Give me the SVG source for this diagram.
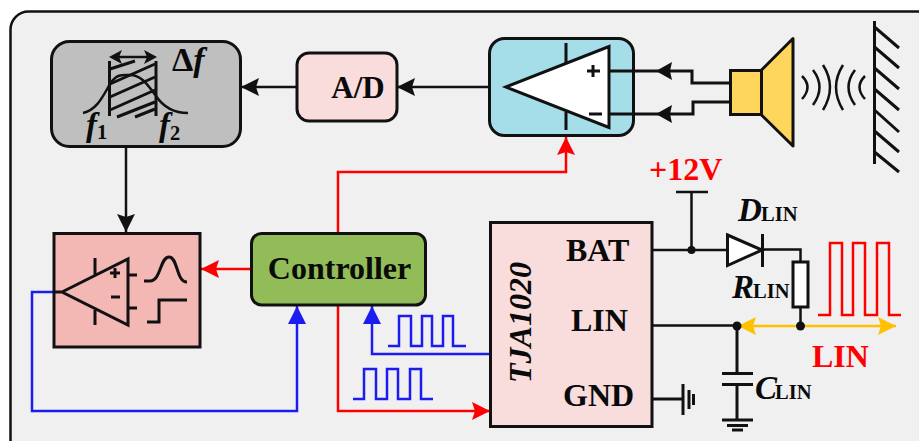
<svg xmlns="http://www.w3.org/2000/svg" width="919" height="441" viewBox="0 0 919 441">
<style>
text{font-family:"Liberation Serif","Times New Roman",serif;font-weight:bold;fill:#0a0a0a}
.t{font-size:32px}.s{font-size:20.500px;font-style:normal}.i{font-style:italic}.r{fill:#f00}
.lab{font-size:33px;font-style:italic}
.box{stroke:#111;stroke-width:3}
.k,.kt,.rl,.bl,.yl,.rp{fill:none;stroke-linejoin:miter}
.k{stroke:#111;stroke-width:2.500}
.kt{stroke:#111;stroke-width:3}
.rl{stroke:#f00;stroke-width:2.500}
.rp{stroke:#f00;stroke-width:2.500}
.bl{stroke:#1c1cf0;stroke-width:2.500}
.yl{stroke:#ffc000;stroke-width:2.500}
</style>
<defs>
<marker id="ak" markerUnits="userSpaceOnUse" markerWidth="20" markerHeight="20" refX="18" refY="10" orient="auto"><path d="M18,10 L0,1 L3,10 L0,19Z" fill="#111"/></marker>
<marker id="ar" markerUnits="userSpaceOnUse" markerWidth="20" markerHeight="20" refX="18" refY="10" orient="auto"><path d="M18,10 L0,1 L3,10 L0,19Z" fill="#f00"/></marker>
<marker id="ab" markerUnits="userSpaceOnUse" markerWidth="20" markerHeight="20" refX="18" refY="10" orient="auto"><path d="M18,10 L0,1 L0,19Z" fill="#1c1cf0"/></marker>
<marker id="ay" markerUnits="userSpaceOnUse" markerWidth="20" markerHeight="20" refX="18" refY="10" orient="auto-start-reverse"><path d="M18,10 L0,1 L3,10 L0,19Z" fill="#ffc000"/></marker>
</defs>
<rect id="panel" x="10.500" y="11.500" width="925" height="450" rx="18" fill="#f0f0f0" stroke="#111" stroke-width="2.500"/>

<g id="connectors">
<path class="k" d="M126,147V232" marker-end="url(#ak)"/>
<path class="k" d="M297,87H241" marker-end="url(#ak)"/>
<path class="k" d="M506,87H397" marker-end="url(#ak)"/>
<path class="rl" d="M251,269H201" marker-end="url(#ar)"/>
<path class="rl" d="M338,233V172H566V137" marker-end="url(#ar)"/>
<path class="rl" d="M338,305V411H490" marker-end="url(#ar)"/>
<path class="bl" d="M54,292H32V411H297V306" marker-end="url(#ab)"/>
<path class="bl" d="M491,354H372V306" marker-end="url(#ab)"/>
<path class="yl" d="M738,326H896" marker-start="url(#ay)" marker-end="url(#ay)"/>
</g>

<g id="filter">
<rect class="box" x="51.500" y="41.500" width="189" height="105" rx="18" fill="#bfbfbf"/>
<path class="kt" d="M109.500,61V116M156,61V116"/>
<path class="kt" d="M110,69L135,61M110,84L155,64M110,97L155,77M110,110L155,90M117,117L155,102M135,117L155,109"/>
<path class="k" d="M83,113C97,110 103,96 110,84C117,73 124,75 130,75C140,75 146,82 156,96C164,108 176,113 188,113"/>
<path class="k" d="M114,57H152"/>
<path fill="#111" d="M109,57L122,50L119,57L122,64ZM157,57L144,50L147,57L144,64Z"/>
<text x="172" y="71" style="font-size:34px">Δ<tspan class="i">f</tspan></text>
<text class="lab" x="86" y="136">f</text>
<text class="s" x="97" y="139">1</text>
<text class="lab" x="159" y="136">f</text>
<text class="s" x="170" y="140">2</text>
</g>

<g id="adc">
<rect class="box" x="297" y="53" width="100" height="68" rx="12" fill="#f9dcdc"/>
<text x="358" y="98" text-anchor="middle" style="font-size:31px">A/D</text>
</g>

<g id="amp">
<rect class="box" x="489.500" y="38.500" width="144" height="97" rx="15" fill="#a5dde9"/>
<path d="M506,87L609,46.500V127.500Z" fill="#fff" stroke="#111" stroke-width="3"/>
<path class="kt" d="M566,43V63M566,112V130"/>
<path class="kt" d="M587,71H600M593,65V77M589,114H602"/>
</g>

<g id="speaker">
<path class="kt" d="M609,71H692V83H730M609,114H693V102H730"/>
<path fill="#111" d="M656,71L672,62L670,71L672,80ZM656,114L672,105L670,114L672,123Z"/>
<rect x="730.500" y="70.500" width="31" height="44" fill="#ffd65c" stroke="#111" stroke-width="3"/>
<path d="M761.500,70L793,38.500V146L761.500,115Z" fill="#ffd65c" stroke="#111" stroke-width="3" stroke-linejoin="round"/>
<path class="k" d="M802,76Q813,87 802,99M813,70Q826,87 813,105M823,65Q837,87 823,110M843,65Q829,87 843,110M855,70Q842,87 855,105M865,76Q854,87 865,99"/>
</g>

<g id="wall">
<path class="kt" d="M874.500,21V164M874.500,27L899,48M874.500,47L899,68M874.500,68L899,89M874.500,89L899,110M874.500,110L899,132M874.500,131L899,152M874.500,152L899,172"/>
</g>

<g id="comparator">
<rect class="box" x="54" y="233.500" width="146" height="113.500" fill="#f4b8b4"/>
<path class="kt" d="M62,292L128,259V325ZM54,292H62M95,258V275M95,310V325M128,275H137M128,308H137"/>
<path class="kt" d="M110,273H120M115,268V278M111,297H120"/>
<path class="kt" d="M144,281H150C161,281 160,257 169,257C178,257 176,282 187,282"/>
<path class="kt" d="M147,322H159V300H187"/>
</g>

<g id="controller">
<rect class="box" x="251.500" y="233.500" width="174" height="71.500" rx="10" fill="#92bc58"/>
<text x="339.500" y="279" text-anchor="middle" style="font-size:32px">Controller</text>
</g>

<g id="tja1020">
<rect class="box" x="490.500" y="222.500" width="161.500" height="204" fill="#f9dcdc"/>
<text class="t i" transform="translate(531,383) rotate(-90)">TJA1020</text>
<text class="t" x="566" y="261">BAT</text>
<text class="t" x="571" y="331">LIN</text>
<text class="t" x="563" y="406">GND</text>
</g>

<g id="signals">
<path class="bl" d="M388,346H399V316H411V346H422V316H432V346H443V316H453V346H466"/>
<path class="bl" d="M353,399H364V369H376V399H387V369H398V399H410V369H421V399H433"/>
<path class="rp" d="M818,315H830V243H842V315H853V243H865V315H877V243H889V315H901"/>
</g>

<g id="lin-circuit">
<text class="t r" x="649" y="180">+12V</text>
<path class="k" d="M676,192H708M691.500,192V250M652,250H727M762,249.500H800.500V262M800.500,307V325M652,325.500H737"/>
<circle cx="691.500" cy="250" r="4" fill="#111"/>
<path d="M727.500,235L762,250L727.500,265.500Z" fill="#fff" stroke="#111" stroke-width="3"/>
<path class="kt" d="M762.500,234V267"/>
<rect x="793" y="262" width="15" height="45" fill="#fff" stroke="#111" stroke-width="3"/>
<circle cx="800.500" cy="326" r="4.500" fill="#111"/>
<circle cx="737" cy="326" r="4.500" fill="#111"/>
<path class="kt" d="M737,326V373M722,373.500H753M722,384.500H753M737,385V420M722,420H753M727,425.500H748M732,430H743"/>
<path class="kt" d="M652,399H683M683,384V415M689,390V409M693.500,394V405"/>
<text class="lab" x="738" y="221">D<tspan class="s" x="761">LIN</tspan></text>
<text class="lab" x="732" y="298">R<tspan class="s" x="753">LIN</tspan></text>
<text class="lab" x="755" y="399">C<tspan class="s" x="775">LIN</tspan></text>
<text class="t r" x="812" y="367">LIN</text>
</g>
</svg>
